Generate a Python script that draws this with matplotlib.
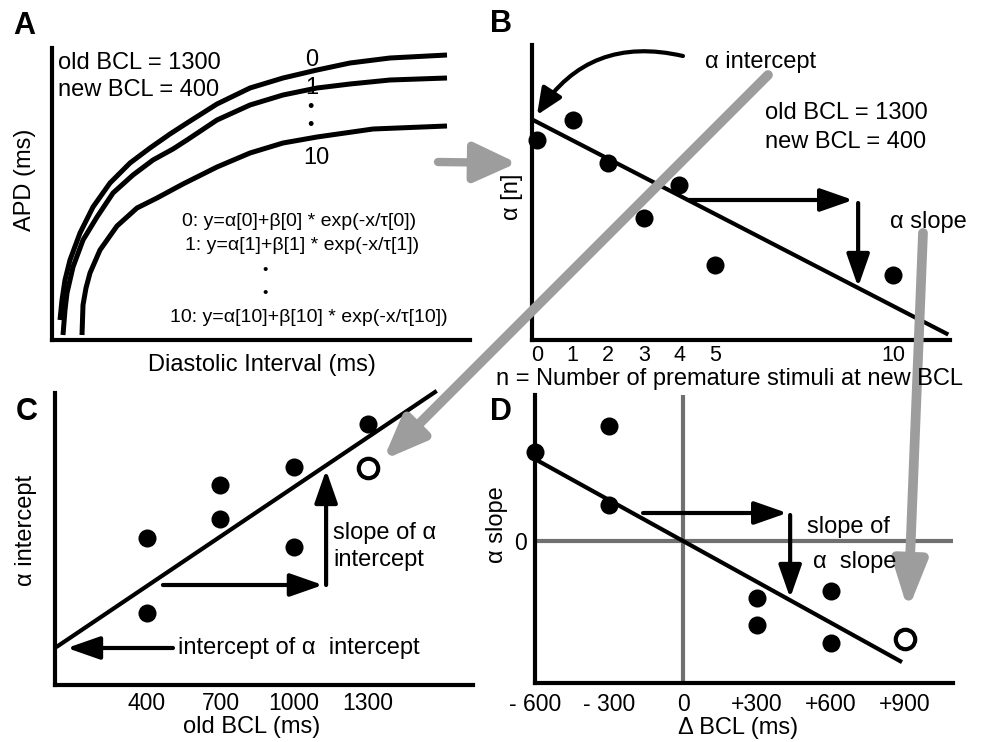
import matplotlib
matplotlib.use('Agg')
import matplotlib.pyplot as plt

plt.rcParams['font.family'] = ['Liberation Sans', 'DejaVu Sans']

W, H = 983, 742

# panel A: APD restitution curves, arbitrary units
di_0 = [8, 10, 13, 18, 28, 41, 58, 78, 98, 118, 135, 165, 198, 231, 265, 298, 338, 395]
apd_0 = [20, 40, 60, 80, 107, 133, 157, 177, 192, 206, 217, 236, 252, 262, 270, 277, 282, 285]
di_1 = [11, 13, 15, 21, 31, 45, 61, 81, 101, 121, 135, 165, 198, 231, 265, 298, 338, 395]
apd_1 = [5, 30, 47, 73, 100, 123, 147, 165, 180, 191, 200, 220, 235, 245, 252, 256, 260, 262]
di_10 = [30, 31, 34, 38, 48, 65, 85, 105, 131, 165, 198, 231, 265, 321, 395]
apd_10 = [5, 35, 52, 67, 90, 114, 132, 142, 156, 173, 187, 197, 203, 211, 214]

# panel B: alpha[n] vs number of premature stimuli
n_stim = [0, 1, 2, 3, 4, 5, 10]
alpha_n = [20.0, 22.0, 17.7, 12.2, 15.5, 7.5, 6.5]
fit_b = (21.8, -1.84)   # intercept, slope

# panel C: alpha intercept vs old BCL
old_bcl = [400, 400, 700, 700, 1000, 1000, 1300]
alpha_int = [14.7, 7.2, 20.0, 16.6, 21.8, 13.8, 26.1]
pred_c = (1300, 21.7)
fit_c = (3.3, 0.0165)
c_ticks = [400, 700, 1000, 1300]

# panel D: alpha slope vs delta BCL
d_bcl = [-600, -300, -300, 300, 300, 600, 600]
alpha_slope = [8.9, 11.5, 3.6, -5.7, -8.4, -5.0, -10.2]
pred_d = (900, -9.8)
fit_d = (0.0, -0.01365)
d_ticks = [-600, -300, 0, 300, 600, 900]
d_labels = ['- 600', '- 300', '0', '+300', '+600', '+900']

fig = plt.figure(figsize=(W / 100, H / 100), dpi=100)


def panel(x0, y0, x1, y1, xlim, ylim):
    ax = fig.add_axes([x0 / W, 1 - y1 / H, (x1 - x0) / W, (y1 - y0) / H])
    ax.set_xlim(xlim)
    ax.set_ylim(ylim)
    for s in ['top', 'right']:
        ax.spines[s].set_visible(False)
    for s in ['left', 'bottom']:
        ax.spines[s].set_linewidth(3)
    ax.set_xticks([])
    ax.set_yticks([])
    ax.tick_params(length=0, labelsize=16.5)
    ax.patch.set_alpha(0)
    return ax


def arrow(ax, start, tip, color='k', lw=3, hl=20, hw=7, **kw):
    ax.annotate('', xy=tip, xytext=start, annotation_clip=False,
                arrowprops=dict(arrowstyle=f'-|>,head_length={hl},head_width={hw}',
                                mutation_scale=1, lw=lw, color=color,
                                shrinkA=0, shrinkB=0, **kw))


dot = dict(ls='none', marker='o', ms=13, color='k', mew=0, clip_on=False, zorder=5)
ring = dict(ls='none', marker='o', ms=14, mfc='white', mec='k', mew=3, clip_on=False, zorder=5)

# A
axA = panel(52, 48, 470, 340, (0, 418), (0, 292))
for x, y in [(di_0, apd_0), (di_1, apd_1), (di_10, apd_10)]:
    axA.plot(x, y, color='k', lw=3.6, solid_capstyle='butt',
             solid_joinstyle='round', clip_on=False)

# B
axB = panel(532, 45, 950, 340, (-0.14, 11.6), (0, 29.5))
axB.plot(n_stim, alpha_n, **dot)
xs = [-0.1, 11.5]
axB.plot(xs, [fit_b[0] + fit_b[1] * v for v in xs], color='k', lw=3, clip_on=False)
axB.set_xticks(n_stim)
axB.set_xticklabels([str(v) for v in n_stim])
axB.tick_params(axis='x', pad=3.5, labelsize=15.5)
arrow(axB, (4.24, 14.0), (8.88, 14.0))
arrow(axB, (9.02, 13.7), (9.02, 5.3))
arrow(axB, (4.1, 28.4), (0.0, 22.5), hl=16, hw=7, connectionstyle='arc3,rad=0.35')

# C
axC = panel(55, 393, 473, 685, (24.5, 1730.6), (0, 29.2))
axC.plot(old_bcl, alpha_int, **dot)
axC.plot(*pred_c, **ring)
xs = [36.7, 1575.5]
axC.plot(xs, [fit_c[0] + fit_c[1] * v for v in xs], color='k', lw=3, clip_on=False)
axC.set_xticks(c_ticks)
axC.set_xticklabels([str(v) for v in c_ticks])
axC.tick_params(axis='x', pad=5)
arrow(axC, (465, 10.0), (1118, 10.0))
arrow(axC, (1131, 10.0), (1131, 21.5))
arrow(axC, (506, 3.7), (73.5, 3.7))

# D
axD = panel(535, 395, 953, 683, (-600, 1094), (-14.2, 14.6))
axD.axhline(0, color='#707070', lw=3, zorder=1)
axD.plot([0, 0], [-14.2, 14.4], color='#707070', lw=3, zorder=1)
axD.plot(d_bcl, alpha_slope, **dot)
axD.plot(*pred_d, **ring)
xs = [-608, 880]
axD.plot(xs, [fit_d[0] + fit_d[1] * v for v in xs], color='k', lw=3, clip_on=False, zorder=3)
axD.set_xticks(d_ticks)
axD.set_xticklabels(d_labels)
axD.set_yticks([0])
axD.set_yticklabels(['0'])
axD.tick_params(axis='x', pad=7.5)
axD.tick_params(axis='y', pad=6)
arrow(axD, (-162, 2.8), (422, 2.8))
arrow(axD, (434, 2.6), (434, -5.7))

# overlay in pixel coordinates for cross-panel arrows and labels
ov = fig.add_axes([0, 0, 1, 1])
ov.set_xlim(0, W)
ov.set_ylim(H, 0)
ov.axis('off')
ov.patch.set_alpha(0)

grey = '#9d9d9d'
arrow(ov, (438, 162), (517, 163), color=grey, lw=6, hl=26, hw=12)
arrow(ov, (768, 75), (383, 460), color=grey, lw=7, hl=25, hw=10)
arrow(ov, (923, 233), (908, 610), color=grey, lw=7, hl=28, hw=10)

big = dict(fontsize=22, fontweight='bold', ha='left', va='center')
for lab, x, y in [('A', 13, 26), ('B', 490, 24), ('C', 16, 412), ('D', 490, 412)]:
    ov.text(x, y, lab, **big)

t = dict(fontsize=17, va='center')
ov.text(58, 63, 'old BCL = 1300', ha='left', **t)
ov.text(58, 90, 'new BCL = 400', ha='left', **t)
ov.text(312, 60, '0', ha='center', **t)
ov.text(312, 88, '1', ha='center', **t)
ov.text(310, 108, '•', ha='center', va='center', fontsize=13)
ov.text(310, 125, '•', ha='center', va='center', fontsize=13)
ov.text(316, 158, '10', ha='center', **t)
eq = dict(fontsize=14, ha='center', va='center')
ov.text(299, 222, '0: y=α[0]+β[0] * exp(-x/τ[0])', **eq)
ov.text(302, 245, '1: y=α[1]+β[1] * exp(-x/τ[1])', **eq)
ov.text(265, 270, '•', fontsize=11, ha='center', va='center')
ov.text(265, 293, '•', fontsize=11, ha='center', va='center')
ov.text(309, 318, '10: y=α[10]+β[10] * exp(-x/τ[10])', **eq)
ov.text(25, 180, 'APD (ms)', ha='center', rotation=90, **t)
ov.text(262, 365, 'Diastolic Interval (ms)', ha='center', **t)

ov.text(705, 62, 'α intercept', ha='left', **t)
ov.text(765, 113, 'old BCL = 1300', ha='left', **t)
ov.text(765, 142, 'new BCL = 400', ha='left', **t)
ov.text(890, 222, 'α slope', ha='left', **t)
ov.text(512, 197, 'α [n]', ha='center', rotation=90, **t)
ov.text(730, 379, 'n = Number of premature stimuli at new BCL', ha='center', **t)

ov.text(26, 530, 'α intercept', ha='center', rotation=90, **t)
ov.text(333, 533, 'slope of α', ha='left', **t)
ov.text(333, 560, 'intercept', ha='left', **t)
ov.text(178, 648, 'intercept of α  intercept', ha='left', **t)
ov.text(252, 727, 'old BCL (ms)', ha='center', **t)

ov.text(497, 525, 'α slope', ha='center', rotation=90, **t)
ov.text(807, 527, 'slope of', ha='left', **t)
ov.text(813, 562, 'α  slope', ha='left', **t)
ov.text(738, 728, 'Δ BCL (ms)', ha='center', **t)

fig.savefig('out.png', dpi=100)
